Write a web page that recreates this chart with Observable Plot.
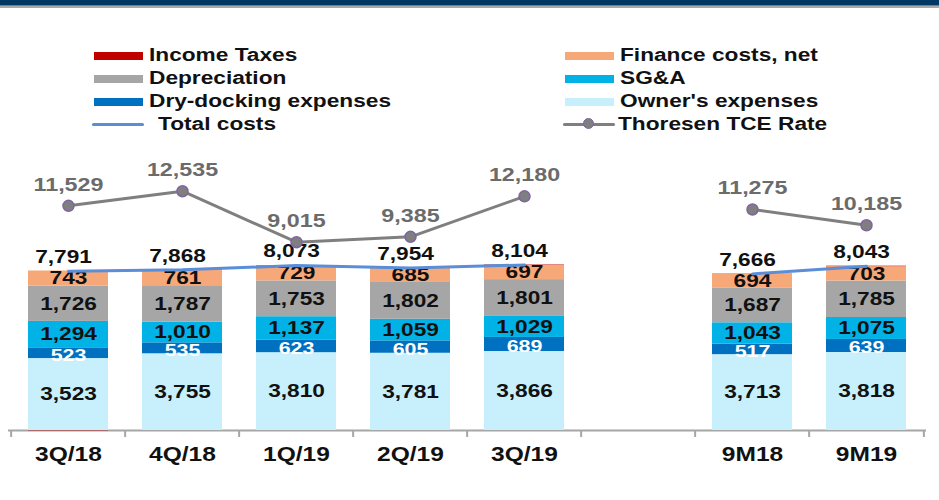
<!DOCTYPE html>
<html>
<head>
<meta charset="utf-8">
<script src="https://cdn.jsdelivr.net/npm/d3@7"></script>
<script src="https://cdn.jsdelivr.net/npm/@observablehq/plot@0.6"></script>
<style>
  html, body { margin: 0; padding: 0; background: #fff; }
  body { width: 939px; height: 500px; overflow: hidden; font-family: "Liberation Sans", Arial, sans-serif; }
  #top { position: relative; height: 140px; }
  #hdr1 { position: absolute; left: 0; top: 0; width: 939px; height: 5px; background: #003862; }
  #hdr2 { position: absolute; left: 0; top: 5px; width: 939px; height: 1px; background: #6f7f8f; }
  #hdr3 { position: absolute; left: 0; top: 6px; width: 939px; height: 2px; background: #a9a9a9; }
  .lg { position: absolute; height: 23px; }
  .sw { position: absolute; top: 8px; width: 49px; height: 8px; }
  .ln { position: absolute; top: 10px; width: 52px; height: 3px; border-radius: 2px; }
  .mk { position: absolute; top: 5px; width: 11px; height: 11px; border-radius: 50%; background: #7f7f7f; border: 1.5px solid #8064a2; box-sizing: border-box; }
  .tx { position: absolute; top: 0; font-size: 18px; font-weight: bold; color: #111; line-height: 23px; white-space: nowrap; display: inline-block; transform: scaleX(1.26); transform-origin: 0 50%; }
</style>
</head>
<body>
<div id="top">
  <div id="hdr1"></div><div id="hdr2"></div><div id="hdr3"></div>
  <div id="legend"></div>
</div>
<div id="chart"></div>
<script>
// ---- data ----
const periods = ["3Q/18", "4Q/18", "1Q/19", "2Q/19", "3Q/19", "9M18", "9M19"];
const axisCategories = ["3Q/18", "4Q/18", "1Q/19", "2Q/19", "3Q/19", " ", "9M18", "9M19"];
const groups = ["Q", "Q", "Q", "Q", "Q", "9M", "9M"];
const ownersExpenses = [3523, 3755, 3810, 3781, 3866, 3713, 3818];
const dryDocking = [523, 535, 623, 605, 689, 517, 639];
const sgna = [1294, 1010, 1137, 1059, 1029, 1043, 1075];
const depreciation = [1726, 1787, 1753, 1802, 1801, 1687, 1785];
const financeCosts = [743, 761, 729, 685, 697, 694, 703];
const incomeTaxes = [-18, 20, 21, 22, 22, 12, 23];
const totalCosts = [7791, 7868, 8073, 7954, 8104, 7666, 8043];
const tceRate = [11529, 12535, 9015, 9385, 12180, 11275, 10185];

const seriesNames = ["Owner's expenses", "Dry-docking expenses", "SG&A", "Depreciation", "Finance costs, net", "Income Taxes"];
const seriesValues = [ownersExpenses, dryDocking, sgna, depreciation, financeCosts, incomeTaxes];
const seriesColors = ["#c8f0fc", "#0070c0", "#00b2e6", "#a6a6a6", "#f7a878", "#c00000"];
const totalColor = "#5a8ed8";
const tceColor = "#7f7f7f";
const tceMarkerStroke = "#8064a2";

// legend entries: [label, kind, color, column, row]
const legendItems = [
  ["Income Taxes", "box", "#c00000", 0, 0],
  ["Depreciation", "box", "#a6a6a6", 0, 1],
  ["Dry-docking expenses", "box", "#0070c0", 0, 2],
  ["Total costs", "line", totalColor, 0, 3],
  ["Finance costs, net", "box", "#f7a878", 1, 0],
  ["SG&A", "box", "#00b2e6", 1, 1],
  ["Owner's expenses", "box", "#c8f0fc", 1, 2],
  ["Thoresen TCE Rate", "marker", tceColor, 1, 3]
];

// ---- build tables ----
const stacked = [];
seriesNames.forEach((s, k) => {
  periods.forEach((p, i) => {
    stacked.push({period: p, series: s, value: seriesValues[k][i], color: seriesColors[k]});
  });
});
const points = periods.map((p, i) => ({period: p, group: groups[i], total: totalCosts[i], tce: tceRate[i]}));

// ---- legend (HTML) ----
const legend = document.getElementById("legend");
const colX = [92, 563];
legendItems.forEach(([label, kind, color, col, row]) => {
  const d = document.createElement("div");
  d.className = "lg";
  d.style.left = colX[col] + "px";
  d.style.top = (44 + row * 23) + "px";
  let inner = "";
  if (kind === "box") {
    inner = `<span class="sw" style="left:2px;background:${color}"></span><span class="tx" style="left:57px">${label.replace("&", "&amp;")}</span>`;
  } else if (kind === "line") {
    inner = `<span class="ln" style="left:0;background:${color}"></span><span class="tx" style="left:66px">${label}</span>`;
  } else {
    inner = `<span class="ln" style="left:0;background:${color}"></span><span class="mk" style="left:20px"></span><span class="tx" style="left:55px">${label}</span>`;
  }
  d.innerHTML = inner;
  legend.appendChild(d);
});

// ---- chart ----
const W = 939, H = 360, mL = 8, mR = 13, mT = 4, mB = 70;
const padInner = 0.3, padOuter = 0.15;
const step = (W - mL - mR) / (axisCategories.length - padInner + 2 * padOuter);
const yMax = 14000;
// secondary (TCE) axis mapped onto the primary axis range
const tceToY = d3.scaleLinear().domain([-3980, 15760]).range([0, yMax]);
const fmt = d3.format(",");
const font = "'Liberation Sans', Arial, sans-serif";

const plot = Plot.plot({
  width: W,
  height: H,
  marginLeft: mL,
  marginRight: mR,
  marginTop: mT,
  marginBottom: mB,
  style: {fontFamily: font, fontSize: "19.5px", fontWeight: "bold", color: "#111", background: "transparent"},
  x: {type: "band", domain: axisCategories, paddingInner: padInner, paddingOuter: padOuter, align: 0.5,
      tickSize: 0, tickPadding: 17, label: null, tickFormat: d => d.trim()},
  y: {domain: [0, yMax], axis: null},
  color: {type: "identity"},
  marks: [
    Plot.ruleY([0], {stroke: "#a6a6a6", strokeWidth: 2}),
    Plot.ruleX(axisCategories, {x: d => d, dx: -step / 2, y1: 0, y2: -340, stroke: "#a6a6a6", strokeWidth: 2}),
    Plot.ruleX(axisCategories.slice(-1), {x: d => d, dx: step / 2, y1: 0, y2: -340, stroke: "#a6a6a6", strokeWidth: 2}),
    Plot.barY(stacked, Plot.stackY({x: "period", y: "value", z: "series", order: seriesNames, fill: "color"})),
    Plot.text(stacked, Plot.stackY({
      x: "period", y: "value", z: "series", order: seriesNames,
      text: d => (d.series === "Income Taxes" || d.series === "Dry-docking expenses") ? "" : fmt(d.value),
      fill: "#111111", fontSize: 18, fontWeight: "bold", fontFamily: font
    })),
    Plot.text(stacked, Plot.stackY({
      x: "period", y: "value", z: "series", order: seriesNames,
      text: d => d.series === "Dry-docking expenses" ? fmt(d.value) : "",
      fill: "#ffffff", fontSize: 17, fontWeight: "bold", fontFamily: font, dy: 2
    })),
    Plot.line(points, {x: "period", y: "total", z: "group", stroke: totalColor, strokeWidth: 3}),
    Plot.text(points, {x: "period", y: "total", text: d => fmt(d.total), dy: -14, dx: -5, fill: "#111111", fontSize: 18, fontWeight: "bold", fontFamily: font}),
    Plot.line(points, {x: "period", y: d => tceToY(d.tce), z: "group", stroke: tceColor, strokeWidth: 3}),
    Plot.dot(points, {x: "period", y: d => tceToY(d.tce), r: 5.5, fill: tceColor, stroke: tceMarkerStroke, strokeWidth: 1.5}),
    Plot.text(points, {x: "period", y: d => tceToY(d.tce), text: d => fmt(d.tce), dy: -21, fill: "#6b6b6b", fontSize: 18.5, fontWeight: "bold", fontFamily: font})
  ]
});
document.getElementById("chart").appendChild(plot);

// stretch text horizontally to match the reference's wide lettering
plot.querySelectorAll("text").forEach(el => {
  const b = el.getBBox();
  if (!b.width) return;
  const cx = b.x + b.width / 2;
  const t = el.getAttribute("transform") || "";
  el.setAttribute("transform", `${t} translate(${cx},0) scale(1.26,1) translate(${-cx},0)`.trim());
});
</script>
</body>
</html>
